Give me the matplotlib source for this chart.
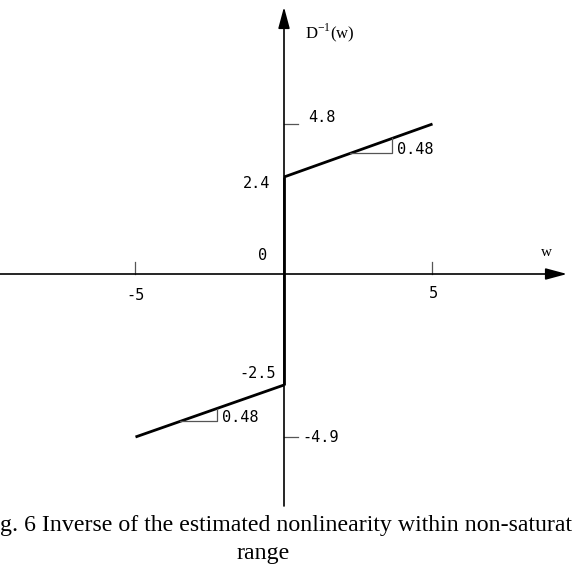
import numpy as np
import matplotlib
matplotlib.use("Agg")
import matplotlib.pyplot as plt

# ---- data ----
upper_x = [0, 5]
upper_y = [2.4, 4.8]
lower_x = [-5, 0]
lower_y = [-4.9, -2.5]
jump_x = [0, 0]
jump_y = [-2.5, 2.4]
slope = 0.48
x_ticks = [-5, 5]
x_tick_labels = ["-5", "5"]
y_ticks = [4.8, -4.9]
y_tick_labels = ["4.8", "-4.9"]
y_start_labels = ["2.4", "-2.5"]

# ---- schematic (piecewise) vertical scale, as in the original drawing ----
ys = np.array([-20, -4.9, -2.5, 0, 2.4, 4.8, 20])
vs = np.array([-163 - 15.1 * 21.7, -163, -111, 0, 97, 150, 150 + 15.2 * 21.7])
fwd = lambda y: np.interp(y, ys, vs)
inv = lambda v: np.interp(v, vs, ys)

W, H = 573, 568
X0, Y0, SX = 284, 274, 29.7  # origin pixel, px per x-unit

fig = plt.figure(figsize=(W / 100, H / 100), dpi=100)
ax = fig.add_axes([0, 0, 1, 1])
ax.set_yscale('function', functions=(fwd, inv))
ax.set_xlim(-X0 / SX, (W - X0) / SX)
ax.set_ylim(inv(Y0 - H), inv(Y0))
ax.axis('off')

def px(xp, yp):
    return (xp - X0) / SX, float(inv(Y0 - yp))

# axes with arrows
xa0, _ = px(0, 0)
xtip, _ = px(567, 0)
_, ytip = px(0, 7)
_, ybot = px(0, 506)
arrow = dict(arrowstyle='-|>,head_length=1.3,head_width=0.35', mutation_scale=10,
             color='black', lw=1.2, shrinkA=0, shrinkB=0)
ax.annotate('', xy=(xtip, 0), xytext=(xa0, 0), arrowprops=arrow)
ax.annotate('', xy=(0, ytip), xytext=(0, ybot), arrowprops=arrow)

# function
lw = 2.0
ax.plot(upper_x, upper_y, color='black', lw=lw, solid_capstyle='butt')
ax.plot(lower_x, lower_y, color='black', lw=lw, solid_capstyle='butt')
ax.plot(jump_x, jump_y, color='black', lw=lw, solid_capstyle='butt')

tick_c = '#555555'
# x ticks (upward)
_, xt_h = px(0, Y0 - 12)
for xt in x_ticks:
    ax.plot([xt, xt], [0, xt_h], color=tick_c, lw=0.9)
# y ticks (to the right)
xt_len = 14 / SX
for yt in y_ticks:
    ax.plot([0, xt_len], [yt, yt], color=tick_c, lw=0.9)

# slope triangles
def tri(xa, xb):
    f = lambda x: np.interp(x, upper_x, upper_y) if x > 0 else np.interp(x, lower_x, lower_y)
    ya = f(xa)
    ax.plot([xa, xb, xb], [ya, ya, f(xb)], color=tick_c, lw=0.9)
tri(2.22, 3.64)
tri(-3.5, -2.26)

num_font = dict(family='DejaVu Sans Mono', fontsize=11, color='black',
                ha='center', va='center')
def t(s, xp, yp, **kw):
    d = dict(num_font); d.update(kw)
    ax.text(*px(xp, yp), s, **d)

t(x_tick_labels[0], 136, 295)
t(x_tick_labels[1], 433, 294)
t(y_tick_labels[0], 322, 117)
t(y_tick_labels[1], 321, 437)
t(y_start_labels[0], 257, 183)
t(y_start_labels[1], 258, 373)
t("0", 263, 255)
t(f"{slope:.2f}", 415, 149)
t(f"{slope:.2f}", 240, 418)
t("w", 546, 252, family='Liberation Serif', fontsize=11)
t(r"D$^{\mathregular{-1}}$(w)", 330, 33, family='Liberation Serif', fontsize=12)

cap = dict(family='Liberation Serif', fontsize=17.2, color='black', va='center')
t("g. 6 Inverse of the estimated nonlinearity within non-saturat", 286.5, 525, **cap)
t("range", 263, 553, **cap)

fig.savefig("out.png", dpi=100)
